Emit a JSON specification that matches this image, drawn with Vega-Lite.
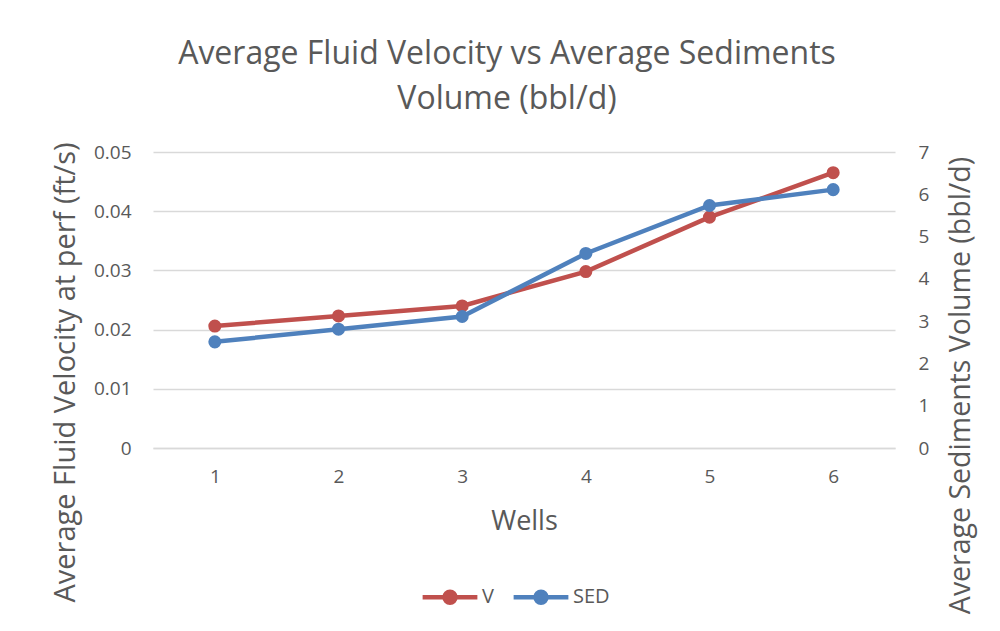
{
  "$schema": "https://vega.github.io/schema/vega-lite/v6.json",
  "autosize": {"type": "none"},
  "width": 742,
  "height": 296,
  "padding": {"left": 153, "top": 152, "right": 105, "bottom": 183},
  "background": "white",
  "config": {
    "font": "Open Sans",
    "view": {"stroke": null},
    "axis": {"labelColor": "#595959", "titleColor": "#595959", "labelFont": "Open Sans", "titleFont": "Open Sans", "titleFontWeight": "normal"}
  },
  "title": {
    "text": ["Average Fluid Velocity vs Average Sediments", "Volume (bbl/d)"],
    "fontSize": 32,
    "fontWeight": "normal",
    "color": "#595959",
    "font": "Open Sans",
    "anchor": "middle",
    "lineHeight": 45,
    "offset": 26,
    "dx": -17
  },
  "data": {
    "values": [
      {"Well": "1", "V": 0.0206, "SED": 2.51},
      {"Well": "2", "V": 0.0223, "SED": 2.81},
      {"Well": "3", "V": 0.0240, "SED": 3.11},
      {"Well": "4", "V": 0.0298, "SED": 4.60},
      {"Well": "5", "V": 0.0390, "SED": 5.735},
      {"Well": "6", "V": 0.0465, "SED": 6.11}
    ]
  },
  "encoding": {
    "x": {
      "field": "Well",
      "type": "ordinal",
      "scale": {"type": "point", "padding": 0.5},
      "axis": {
        "title": "Wells",
        "labelAngle": 0,
        "labelFontSize": 19,
        "labelPadding": 19,
        "ticks": false,
        "domain": true,
        "domainColor": "#D9D9D9",
        "domainWidth": 1.5,
        "grid": false,
        "titleFontSize": 27,
        "titleX": 371,
        "titleY": 73,
        "titleBaseline": "middle",
        "titleAlign": "center"
      }
    }
  },
  "layer": [
    {
      "mark": {"type": "line", "strokeWidth": 4.5, "point": {"size": 170, "filled": true, "opacity": 1}},
      "encoding": {
        "y": {
          "field": "V",
          "type": "quantitative",
          "scale": {"domain": [0, 0.05], "nice": false},
          "axis": {
            "title": "Average Fluid Velocity at perf (ft/s)",
            "values": [0, 0.01, 0.02, 0.03, 0.04, 0.05],
            "labelExpr": "datum.value == 0 ? '0' : format(datum.value, '.2f')",
            "labelFontSize": 19,
            "labelPadding": 22,
            "ticks": false,
            "domain": false,
            "grid": true,
            "gridColor": "#D9D9D9",
            "gridWidth": 1.5,
            "titleFontSize": 29,
            "titleAngle": 270,
            "titleX": -88,
            "titleY": 220,
            "titleBaseline": "middle",
            "titleAlign": "center"
          }
        },
        "color": {
          "datum": "V",
          "type": "nominal",
          "scale": {"domain": ["V", "SED"], "range": ["#C0504D", "#4F81BD"]},
          "legend": {
            "title": null,
            "orient": "none",
            "direction": "horizontal",
            "legendX": 267,
            "legendY": 415,
            "symbolType": "M-1,0H1M0.2,0A0.2,0.2 0 1,1 -0.2,0A0.2,0.2 0 1,1 0.2,0Z",
            "symbolSize": 3000,
            "symbolStrokeWidth": 4.5,
            "labelFontSize": 20,
            "labelColor": "#595959",
            "labelFont": "Open Sans",
            "columnPadding": 10,
            "labelOffset": 2
          }
        }
      }
    },
    {
      "mark": {"type": "line", "strokeWidth": 4.5, "point": {"size": 170, "filled": true, "opacity": 1}},
      "encoding": {
        "y": {
          "field": "SED",
          "type": "quantitative",
          "scale": {"domain": [0, 7], "nice": false},
          "axis": {
            "orient": "right",
            "title": "Average Sediments Volume (bbl/d)",
            "values": [0, 1, 2, 3, 4, 5, 6, 7],
            "labelFontSize": 19,
            "labelPadding": 23,
            "ticks": false,
            "domain": false,
            "grid": false,
            "titleFontSize": 28.5,
            "titleAngle": 270,
            "titleX": 65,
            "titleY": 233,
            "titleBaseline": "middle",
            "titleAlign": "center"
          }
        },
        "color": {"datum": "SED", "type": "nominal"}
      }
    }
  ],
  "resolve": {"scale": {"y": "independent"}}
}
